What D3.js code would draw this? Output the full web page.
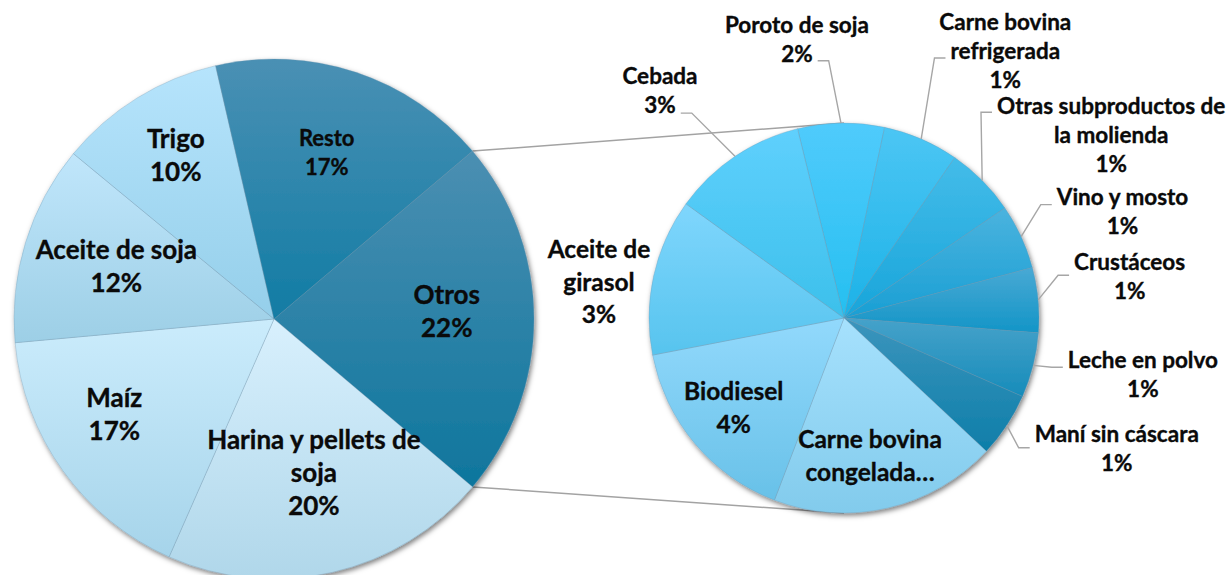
<!DOCTYPE html>
<html>
<head>
<meta charset="utf-8">
<script src="https://cdn.jsdelivr.net/npm/d3@7"></script>
<style>
  html, body { margin: 0; padding: 0; background: #fff; }
  svg { display: block; }
  text { font-family: "Lato", "Noto Sans", sans-serif; font-weight: 700; fill: #0a0a0a;
         stroke: #0a0a0a; stroke-width: 0.35px; }
</style>
</head>
<body>
<svg id="chart" width="1229" height="575"></svg>
<script>
// Export shares (% of total)
const mainCategories = ["Otros", "Harina y pellets de soja", "Maíz", "Aceite de soja", "Trigo", "Resto"];
const mainValues     = [22.3, 20.4, 16.9, 12.4, 10.4, 17.4];

// Breakdown of "Otros"
const otherCategories = [
  "Poroto de soja", "Carne bovina refrigerada", "Otras subproductos de la molienda",
  "Vino y mosto", "Crustáceos", "Leche en polvo", "Maní sin cáscara",
  "Carne bovina congelada", "Biodiesel", "Aceite de girasol", "Cebada"
];
const otherValues = [1.6, 1.4, 1.3, 1.2, 1.2, 1.2, 1.2, 4.2, 3.6, 2.9, 2.5];

// ---- styling / layout ----
const mainColors = {
  "Otros": ["#4b8fb2", "#0e769d"],
  "Harina y pellets de soja": ["#d8f0fd", "#b0d7ea"],
  "Maíz": ["#cbecfc", "#a6d4ea"],
  "Aceite de soja": ["#c0e6fb", "#9dcfe6"],
  "Trigo": ["#b6e4fc", "#95cfea"],
  "Resto": ["#4a90b4", "#117ca4"]
};
const otherColors = {
  "Poroto de soja": ["#50cbfc", "#25bff0"],
  "Carne bovina refrigerada": ["#4cc6f4", "#1cb2e7"],
  "Otras subproductos de la molienda": ["#44bce9", "#18a5da"],
  "Vino y mosto": ["#4bb3de", "#199fd4"],
  "Crustáceos": ["#49a9d4", "#1395c7"],
  "Leche en polvo": ["#46a2ca", "#178cba"],
  "Maní sin cáscara": ["#3c95bd", "#0e7ea9"],
  "Carne bovina congelada": ["#a6e1fd", "#82cbec"],
  "Biodiesel": ["#92d9fc", "#68c1e8"],
  "Aceite de girasol": ["#7fd6fd", "#57c4ee"],
  "Cebada": ["#5fd0fd", "#3cc0eb"]
};

// how long category names wrap on the chart
const wrapped = {
  "Harina y pellets de soja": ["Harina y pellets de", "soja"],
  "Carne bovina refrigerada": ["Carne bovina", "refrigerada"],
  "Otras subproductos de la molienda": ["Otras subproductos de", "la molienda"],
  "Aceite de girasol": ["Aceite de", "girasol"],
  "Carne bovina congelada": ["Carne bovina", "congelada…"]
};
const truncated = new Set(["Carne bovina congelada"]);

const main = { cx: 274, cy: 319, r: 260 };
const second = { cx: 844, cy: 318, r: 195, start: -13.8 };

// label placement: [angle shift from slice middle (deg), radius factor, font size, line height]
const mainLabelPos = {
  "Otros": [-2.5, 0.665, 26, 33],
  "Harina y pellets de soja": [-1.6, 0.61, 26, 33],
  "Maíz": [4.9, 0.715, 26, 33],
  "Aceite de soja": [1.5, 0.64, 26, 33],
  "Trigo": [0.8, 0.735, 26, 33],
  "Resto": [-0.8, 0.67, 22, 29]
};
// [angle shift, radius factor, font size, line height, leader line index (or null), leader y offset]
const otherLabelPos = {
  "Poroto de soja": [-8.7, 1.45, 22.5, 29, 1, 7],
  "Carne bovina refrigerada": [7.8, 1.60, 22.5, 29, 1, 7],
  "Otras subproductos de la molienda": [10.5, 1.66, 22.5, 29, 0, 6],
  "Vino y mosto": [3.7, 1.53, 22.5, 29, 0, 8],
  "Crustáceos": [-2.9, 1.48, 22.5, 29, 0, 13],
  "Leche en polvo": [-3.3, 1.56, 22.5, 29, 0, 7],
  "Maní sin cáscara": [-7.9, 1.55, 22.5, 29, 0, 14],
  "Carne bovina congelada": [2.3, 0.72, 24.5, 33, null, 0],
  "Biodiesel": [0.8, 0.73, 24.5, 33, null, 0],
  "Aceite de girasol": [-4.1, 1.27, 24.5, 32.5, null, 0],
  "Cebada": [-5.0, 1.50, 22.5, 29, 1, 8]
};

const DEG = Math.PI / 180;
const svg = d3.select("#chart");
const defs = svg.append("defs");

const shadow = defs.append("filter").attr("id", "pieShadow")
  .attr("x", "-10%").attr("y", "-10%").attr("width", "120%").attr("height", "120%");
shadow.append("feDropShadow").attr("dx", 1.5).attr("dy", 2.5)
  .attr("stdDeviation", 2.5).attr("flood-color", "#000").attr("flood-opacity", 0.5);

function gradient(id, stops) {
  const g = defs.append("linearGradient").attr("id", id)
    .attr("x1", 0).attr("y1", 0).attr("x2", 0).attr("y2", 1);
  g.append("stop").attr("offset", "0%").attr("stop-color", stops[0]);
  g.append("stop").attr("offset", "100%").attr("stop-color", stops[1]);
}

function polar(c, r, a) {
  return [c.cx + r * Math.sin(a), c.cy - r * Math.cos(a)];
}

const pct = v => Math.round(v / d3.sum(mainValues) * 100) + "%";

// ---- layouts ----
const mainData = mainCategories.map((name, i) => ({ name, value: mainValues[i] }));
const otherData = otherCategories.map((name, i) => ({ name, value: otherValues[i] }));

const otrosShare = mainValues[0] / d3.sum(mainValues) * 2 * Math.PI;
const mainStart = Math.PI / 2 - otrosShare / 2;
const mainArcs = d3.pie().sort(null).value(d => d.value)
  .startAngle(mainStart).endAngle(mainStart + 2 * Math.PI)(mainData);

const secStart = second.start * DEG;
const otherArcs = d3.pie().sort(null).value(d => d.value)
  .startAngle(secStart).endAngle(secStart + 2 * Math.PI)(otherData);

// ---- connector lines between the two pies ----
const otrosArc = mainArcs[0];
const linkG = svg.append("g").attr("stroke", "#a3a3a3").attr("stroke-width", 1.5).attr("fill", "none");
const pTop = polar(main, main.r, otrosArc.startAngle);
const pBot = polar(main, main.r, otrosArc.endAngle);
linkG.append("line").attr("x1", pTop[0]).attr("y1", pTop[1])
  .attr("x2", second.cx).attr("y2", second.cy - second.r);
linkG.append("line").attr("x1", pBot[0]).attr("y1", pBot[1])
  .attr("x2", second.cx).attr("y2", second.cy + second.r);

// ---- pies ----
function drawPie(c, arcs, colors, prefix) {
  const arc = d3.arc().innerRadius(0).outerRadius(c.r);
  const g = svg.append("g").attr("transform", `translate(${c.cx},${c.cy})`)
    .attr("filter", "url(#pieShadow)");
  arcs.forEach((a, i) => gradient(prefix + i, colors[a.data.name]));
  g.selectAll("path").data(arcs).join("path")
    .attr("d", arc)
    .attr("fill", (d, i) => `url(#${prefix}${i})`)
    .attr("stroke", "rgba(110,150,175,0.45)")
    .attr("stroke-width", 0.7);
}
drawPie(main, mainArcs, mainColors, "gm");
drawPie(second, otherArcs, otherColors, "gs");

// ---- labels ----
const labelG = svg.append("g");
const leaderG = svg.append("g").attr("stroke", "#a6a6a6").attr("stroke-width", 1.4).attr("fill", "none");

function labelLines(d) {
  const base = wrapped[d.name] || [d.name];
  return truncated.has(d.name) ? base : base.concat([pct(d.value)]);
}

function drawText(cx, cy, lines, size, lh) {
  const n = lines.length;
  return lines.map((t, i) => {
    const yc = cy + (i - (n - 1) / 2) * lh;
    const el = labelG.append("text")
      .attr("x", cx).attr("y", yc + size * 0.36)
      .attr("text-anchor", "middle")
      .style("font-size", size + "px")
      .text(t);
    const w = el.node().getComputedTextLength();
    return { yc, left: cx - w / 2, right: cx + w / 2 };
  });
}

mainArcs.forEach(a => {
  const [shift, rf, size, lh] = mainLabelPos[a.data.name];
  const mid = (a.startAngle + a.endAngle) / 2 + shift * DEG;
  const [x, y] = polar(main, main.r * rf, mid);
  drawText(x, y, labelLines(a.data), size, lh);
});

otherArcs.forEach(a => {
  const [shift, rf, size, lh, lineIdx, ldy] = otherLabelPos[a.data.name];
  const midRaw = (a.startAngle + a.endAngle) / 2;
  const [x, y] = polar(second, second.r * rf, midRaw + shift * DEG);
  const boxes = drawText(x, y, labelLines(a.data), size, lh);
  if (lineIdx !== null) {
    const anchor = polar(second, second.r, midRaw);
    const b = boxes[lineIdx];
    const ly = b.yc + ldy;
    const onRight = x > anchor[0];
    const endX = onRight ? b.left - 5 : b.right + 5;
    const elbowX = onRight ? endX - 11 : endX + 11;
    leaderG.append("polyline")
      .attr("points", [[anchor[0], anchor[1]], [elbowX, ly], [endX, ly]].map(p => p.join(",")).join(" "));
  }
});
</script>
</body>
</html>
